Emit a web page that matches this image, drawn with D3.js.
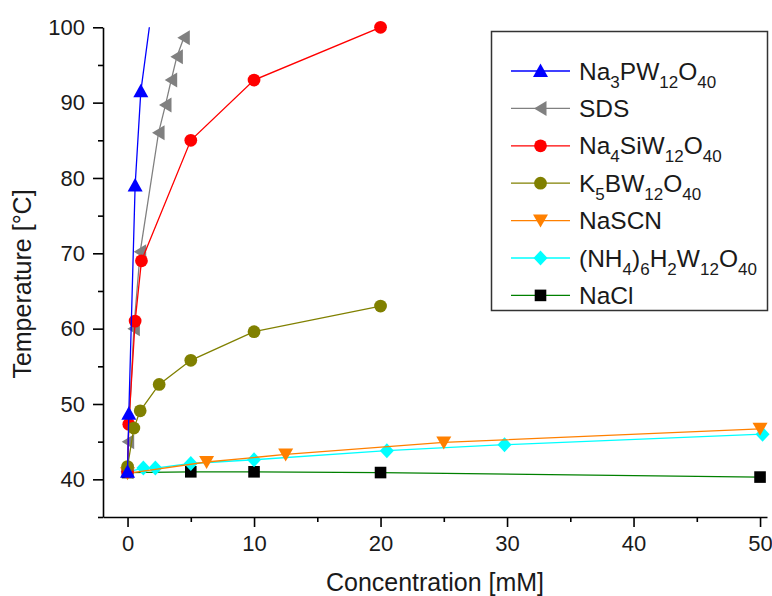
<!DOCTYPE html>
<html>
<head>
<meta charset="utf-8">
<script src="https://cdnjs.cloudflare.com/ajax/libs/d3/7.8.5/d3.min.js"></script>
<style>
  body { margin: 0; background: #fff; }
  svg { display: block; }
  text { font-family: "Liberation Sans", Arial, sans-serif; fill: #1a1a1a; }
</style>
</head>
<body>
<svg id="chart" width="772" height="596"></svg>
<script>
// Cloud point temperature vs. additive concentration
const pwConc   = [0, 0.1, 0.6, 1.05, 2.0];
const pwTemp   = [41.0, 48.7, 79.0, 91.5, 103.5];

const sdsConc  = [0, 0.05, 0.5, 1.0, 2.45, 3.0, 3.45, 3.9, 4.45];
const sdsTemp  = [41.0, 45.0, 60.0, 70.2, 86.0, 89.7, 93.0, 96.1, 98.6];

const siwConc  = [0, 0.1, 0.6, 1.1, 5, 10, 20];
const siwTemp  = [41.0, 47.3, 61.0, 69.0, 85.0, 93.0, 100.0];

const bwConc   = [0, 0.5, 1.0, 2.5, 5, 10, 20];
const bwTemp   = [41.7, 46.8, 49.1, 52.6, 55.8, 59.6, 63.0];

const scnConc  = [0, 6.25, 12.5, 25, 50];
const scnTemp  = [40.8, 42.3, 43.3, 44.9, 46.7];

const amwConc  = [0, 1.25, 2.2, 5, 10, 20.5, 29.8, 50.2];
const amwTemp  = [41.0, 41.5, 41.5, 42.1, 42.6, 43.8, 44.6, 46.0];

const naclConc = [0, 5, 10, 20, 50];
const naclTemp = [40.9, 41.0, 41.0, 40.9, 40.3];

// legend labels: [text, isSubscript]
const labelPW   = [["Na",0],["3",1],["PW",0],["12",1],["O",0],["40",1]];
const labelSDS  = [["SDS",0]];
const labelSiW  = [["Na",0],["4",1],["SiW",0],["12",1],["O",0],["40",1]];
const labelBW   = [["K",0],["5",1],["BW",0],["12",1],["O",0],["40",1]];
const labelSCN  = [["NaSCN",0]];
const labelAmW  = [["(NH",0],["4",1],[")",0],["6",1],["H",0],["2",1],["W",0],["12",1],["O",0],["40",1]];
const labelNaCl = [["NaCl",0]];

const xTicks = [0, 10, 20, 30, 40, 50];
const yTicks = [40, 50, 60, 70, 80, 90, 100];

// legend order (top to bottom)
const legendSeries = [
  { label: labelPW,   x: pwConc,   y: pwTemp,   line: "#0000ff", fill: "#0000ff", shape: "triUp" },
  { label: labelSDS,  x: sdsConc,  y: sdsTemp,  line: "#808080", fill: "#808080", shape: "triLeft" },
  { label: labelSiW,  x: siwConc,  y: siwTemp,  line: "#ff0000", fill: "#ff0000", shape: "circle" },
  { label: labelBW,   x: bwConc,   y: bwTemp,   line: "#808000", fill: "#808000", shape: "circle" },
  { label: labelSCN,  x: scnConc,  y: scnTemp,  line: "#ff8000", fill: "#ff8000", shape: "triDown" },
  { label: labelAmW,  x: amwConc,  y: amwTemp,  line: "#00ffff", fill: "#00ffff", shape: "diamond" },
  { label: labelNaCl, x: naclConc, y: naclTemp, line: "#008000", fill: "#000000", shape: "square" }
];
// stacking order when drawing (bottom first)
const drawOrder = [6, 5, 4, 1, 2, 3, 0];

const svg = d3.select("#chart");
const plotLeft = 103, plotRight = 767, plotTop = 27.3, plotBottom = 517;

const x = d3.scaleLinear().domain([-1.94, 50.55]).range([plotLeft, plotRight]);
const y = d3.scaleLinear().domain([35, 100]).range([plotBottom, plotTop]);

function markerPath(shape) {
  switch (shape) {
    case "triUp":   return "M0,-7.5L7.5,6L-7.5,6Z";
    case "triDown": return "M0,7L7.5,-6L-7.5,-6Z";
    case "triLeft": return "M-6.5,0L6,-7.5L6,7.5Z";
    case "diamond": return "M0,-7.5L7,0L0,7.5L-7,0Z";
    case "square":  return "M-5.8,-5.8H5.8V5.8H-5.8Z";
    default:        return d3.symbol(d3.symbolCircle, 128)();
  }
}

svg.append("clipPath").attr("id", "plotClip")
  .append("rect").attr("x", plotLeft).attr("y", plotTop)
  .attr("width", plotRight - plotLeft).attr("height", plotBottom - plotTop);

const plot = svg.append("g");
const line = d3.line().x(d => x(d[0])).y(d => y(d[1]));

drawOrder.forEach(i => {
  const s = legendSeries[i];
  const pts = s.x.map((c, k) => [c, s.y[k]]);
  const g = plot.append("g");
  g.append("path").datum(pts)
    .attr("d", line)
    .attr("clip-path", "url(#plotClip)")
    .attr("fill", "none")
    .attr("stroke", s.line)
    .attr("stroke-width", 1.3);
  g.selectAll("path.m").data(pts.filter(p => p[1] <= 100)).join("path")
    .attr("class", "m")
    .attr("transform", d => `translate(${x(d[0])},${y(d[1])})`)
    .attr("d", markerPath(s.shape))
    .attr("fill", s.fill);
});

// axes
const xAxis = svg.append("g").attr("transform", `translate(0,${plotBottom})`);
xAxis.call(d3.axisBottom(x).tickValues(xTicks).tickSize(10).tickSizeOuter(0).tickPadding(8).tickFormat(d3.format("d")));
const xMinor = svg.append("g").attr("transform", `translate(0,${plotBottom})`);
xMinor.call(d3.axisBottom(x).tickValues([5, 15, 25, 35, 45]).tickSize(5).tickSizeOuter(0).tickFormat(""));

const yAxis = svg.append("g").attr("transform", `translate(${plotLeft},0)`);
yAxis.call(d3.axisLeft(y).tickValues(yTicks).tickSize(10).tickSizeOuter(0).tickPadding(8).tickFormat(d3.format("d")));
const yMinor = svg.append("g").attr("transform", `translate(${plotLeft},0)`);
yMinor.call(d3.axisLeft(y).tickValues([35, 45, 55, 65, 75, 85, 95]).tickSize(5).tickSizeOuter(0).tickFormat(""));

[xAxis, xMinor, yAxis, yMinor].forEach(a => {
  a.selectAll("path.domain").attr("stroke", "#000").attr("stroke-width", 1.6);
  a.selectAll(".tick line").attr("stroke", "#000").attr("stroke-width", 1.6);
  a.selectAll(".tick text").attr("font-size", 22).attr("fill", "#1a1a1a")
    .style("font-family", '"Liberation Sans", Arial, sans-serif');
});
xMinor.select("path.domain").remove();
yMinor.select("path.domain").remove();

// axis titles
svg.append("text").attr("x", (plotLeft + plotRight) / 2).attr("y", 591)
  .attr("text-anchor", "middle").attr("font-size", 25).text("Concentration [mM]");
svg.append("text").attr("transform", "translate(31,284) rotate(-90)")
  .attr("text-anchor", "middle").attr("font-size", 25).text("Temperature [°C]");

// legend
const lg = svg.append("g");
lg.append("rect").attr("x", 491.5).attr("y", 31.5).attr("width", 276).attr("height", 279)
  .attr("fill", "#fff").attr("stroke", "#333").attr("stroke-width", 1.5);
legendSeries.forEach((s, i) => {
  const cy = 71 + i * 37.4;
  lg.append("line").attr("x1", 511).attr("x2", 570).attr("y1", cy).attr("y2", cy)
    .attr("stroke", s.line).attr("stroke-width", 1.3);
  lg.append("path").attr("transform", `translate(540.5,${cy})`)
    .attr("d", markerPath(s.shape)).attr("fill", s.fill);
  const t = lg.append("text").attr("x", 579).attr("y", cy + 8.5).attr("font-size", 24.5);
  let shifted = false;
  s.label.forEach(([str, sub]) => {
    const ts = t.append("tspan").text(str);
    if (sub && !shifted) { ts.attr("dy", 8).attr("font-size", 17); shifted = true; }
    else if (sub) { ts.attr("font-size", 17); }
    else if (!sub && shifted) { ts.attr("dy", -8); shifted = false; }
  });
});
</script>
</body>
</html>
